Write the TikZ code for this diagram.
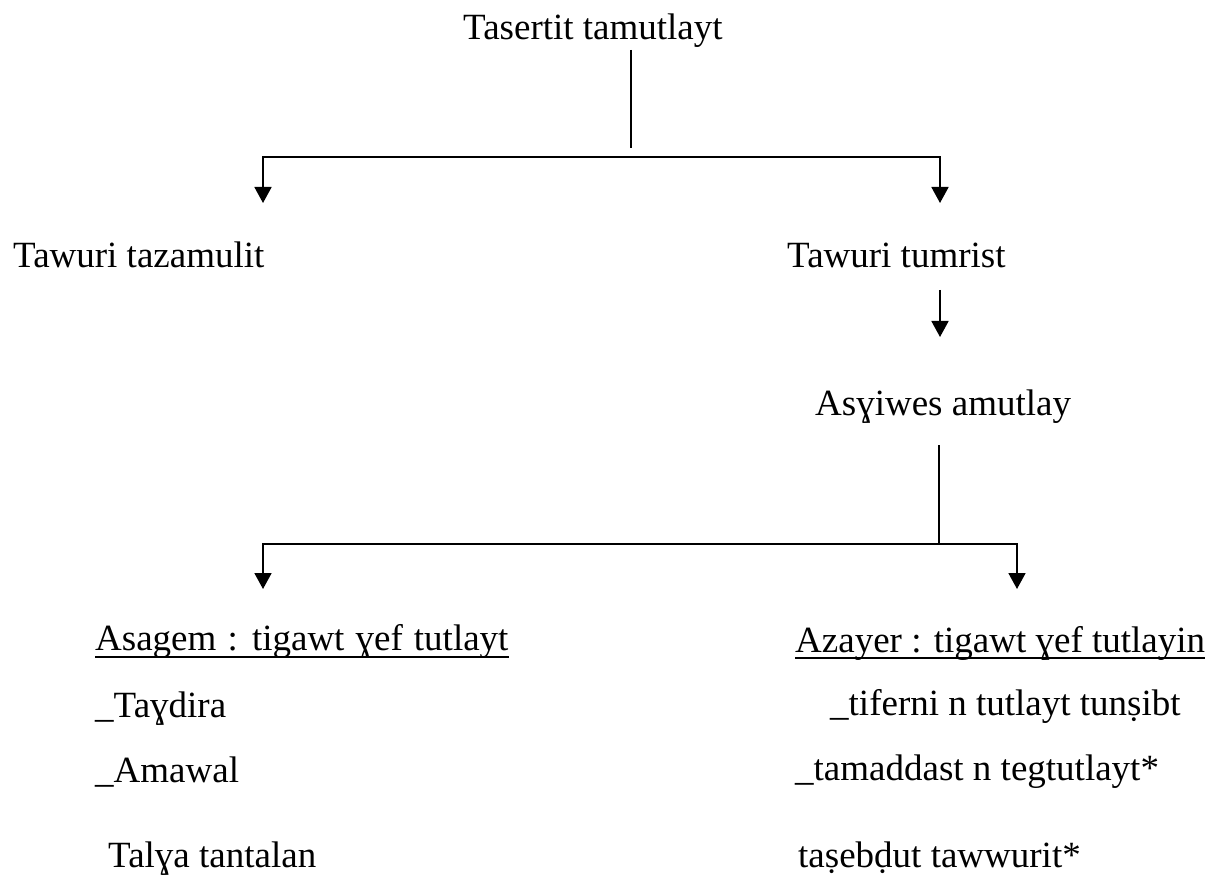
\documentclass[tikz,border=0pt]{standalone}
\usepackage{fontspec}
\setmainfont{Liberation Serif}
\usetikzlibrary{arrows.meta}
\begin{document}
\begin{tikzpicture}[x=1pt,y=-1pt,
  lbl/.style={inner sep=0pt,anchor=base west,font=\fontsize{37}{44}\selectfont},
  ln/.style={line width=1.8pt},
  arr/.style={line width=1.8pt,-{Triangle[width=17pt,length=16pt]}},
  ul/.style={line width=1.8pt}]
\useasboundingbox[fill=white] (0,0) rectangle (1208,877);
% texts
\node[lbl] (title) at (463,40) {Tasertit tamutlayt};
\node[lbl] (tz) at (13,268) {Tawuri tazamulit};
\node[lbl] (tm) at (787,268) {Tawuri tumrist};
\node[lbl] (as) at (815,415) {Asɣiwes amutlay};
\node[lbl] (asg) at (95,650) {\spaceskip=0.3em plus 0.1em Asagem : tigawt ɣef tutlayt};
\node[lbl] (tay) at (95,717) {\_Taɣdira};
\node[lbl] (ama) at (95,782) {\_Amawal};
\node[lbl] (tal) at (108,867) {Talɣa tantalan};
\node[lbl] (az) at (795,652) {Azayer : tigawt ɣef tutlayin};
\node[lbl] (tif) at (830,715) {\_tiferni n tutlayt tunṣibt};
\node[lbl] (tam) at (795,780) {\_tamaddast n tegtutlayt*};
\node[lbl] (tas) at (798,867) {taṣebḍut tawwurit*};
% underlines
\draw[ul] ([yshift=-7pt]asg.base west) -- ([yshift=-7pt]asg.base east);
\draw[ul] ([yshift=-6pt]az.base west) -- ([yshift=-6pt]az.base east);
% connector coordinates
\coordinate (v1a) at (631,50);
\coordinate (v1b) at (631,148);
\coordinate (h1m) at (601,157);
\coordinate (a1) at (263,203);
\coordinate (a2) at (940,203);
\coordinate (v2a) at (940,290);
\coordinate (a3) at (940,337);
\coordinate (v3a) at (939,445);
\coordinate (h2m) at (939,544);
\coordinate (a4) at (263,589);
\coordinate (a5) at (1017,589);
% connectors
\draw[ln] (v1a) -- (v1b);
\draw[arr] (h1m) -| (a1);
\draw[arr] (h1m) -| (a2);
\draw[arr] (v2a) -- (a3);
\draw[ln] (v3a) -- (h2m);
\draw[arr] (h2m) -| (a4);
\draw[arr] (h2m) -| (a5);
\end{tikzpicture}
\end{document}
